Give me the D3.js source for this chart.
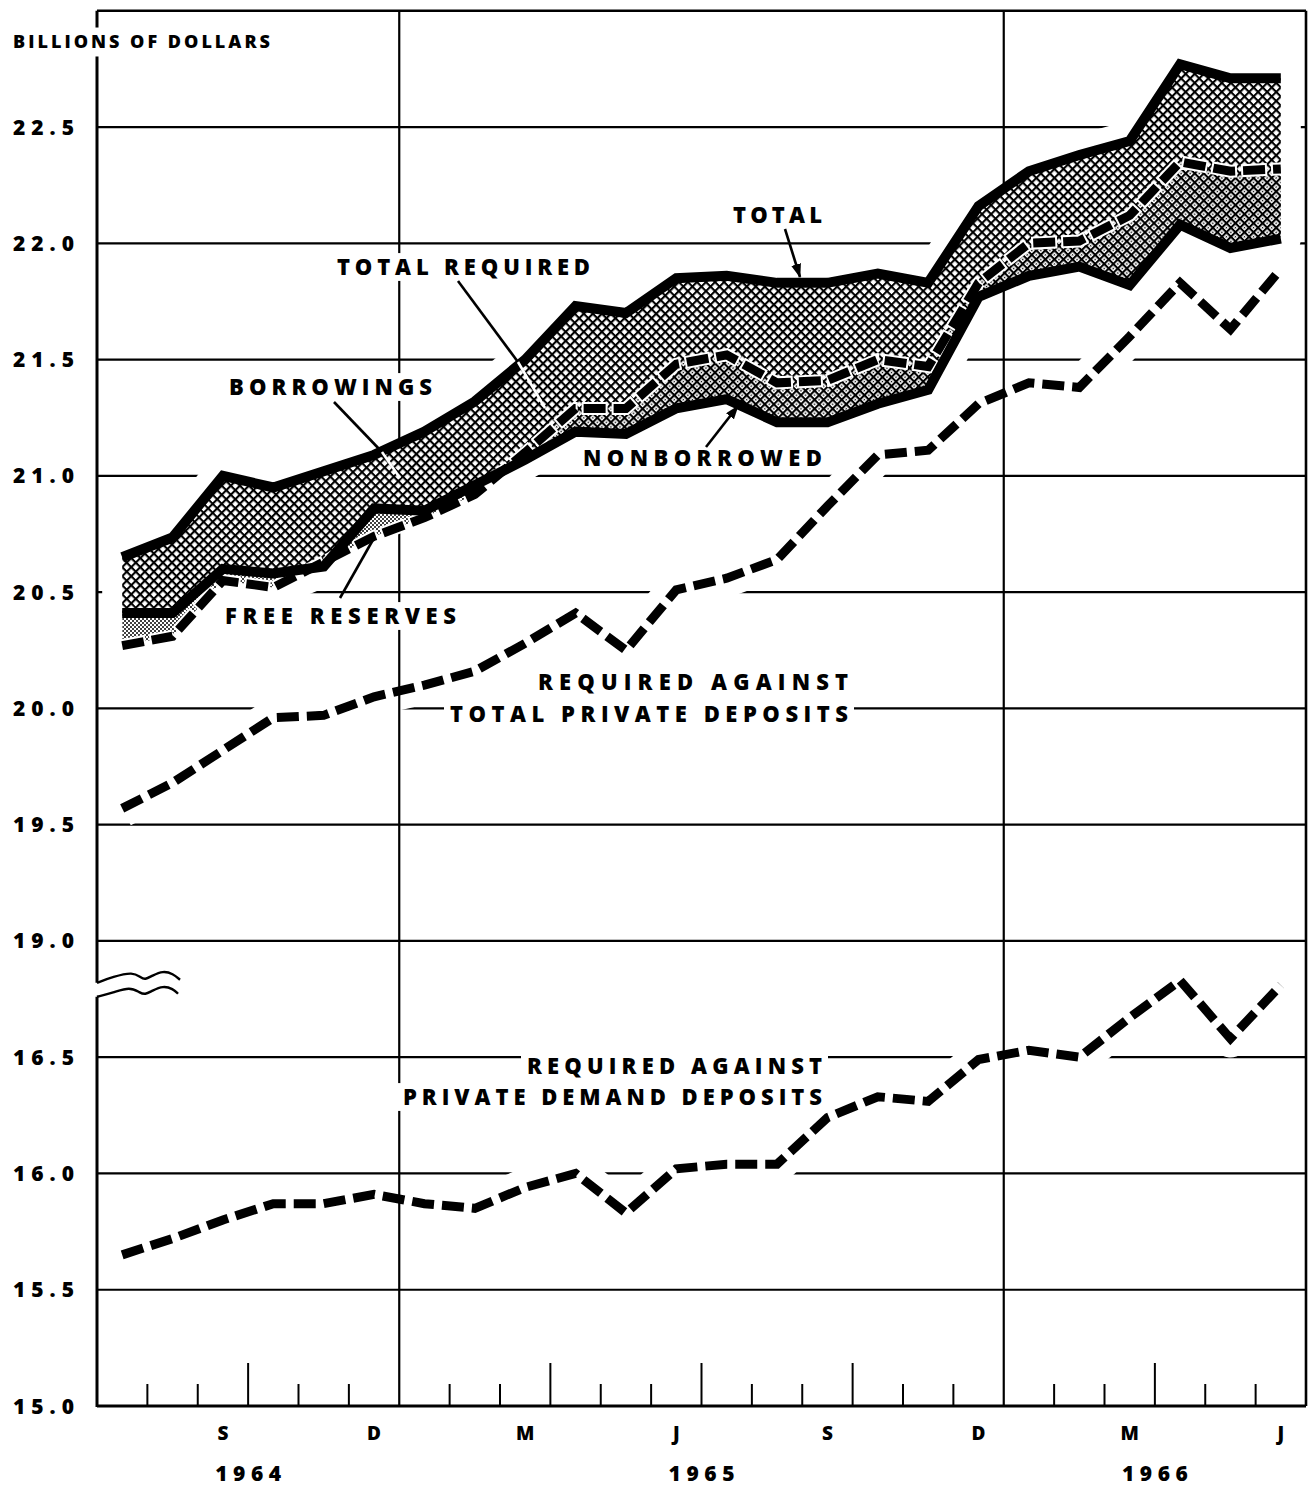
<!DOCTYPE html>
<html><head><meta charset="utf-8">
<script src="https://cdn.jsdelivr.net/npm/d3@7"></script>
<style>
html,body{margin:0;padding:0;background:#fff;}
svg{display:block;}
text{font-family:"Open Sans","Noto Sans",sans-serif;font-weight:800;fill:#000;}
</style></head><body>
<svg id="chart" width="1310" height="1488"></svg>
<script>
// ---------------- DATA ----------------
const months = ["Jul 1964","Aug 1964","Sep 1964","Oct 1964","Nov 1964","Dec 1964",
  "Jan 1965","Feb 1965","Mar 1965","Apr 1965","May 1965","Jun 1965",
  "Jul 1965","Aug 1965","Sep 1965","Oct 1965","Nov 1965","Dec 1965",
  "Jan 1966","Feb 1966","Mar 1966","Apr 1966","May 1966","Jun 1966"];
const totalReserves = [20.65,20.735,21.00,20.95,21.02,21.09,21.19,21.32,21.50,21.73,21.70,21.85,
  21.86,21.83,21.83,21.87,21.83,22.16,22.31,22.38,22.44,22.77,22.71,22.71];
const nonborrowed = [20.41,20.41,20.60,20.58,20.61,20.86,20.85,20.96,21.07,21.19,21.18,21.29,
  21.33,21.23,21.23,21.31,21.37,21.77,21.86,21.90,21.82,22.08,21.98,22.02];
const totalRequired = [20.27,20.31,20.55,20.52,20.63,20.74,20.82,20.92,21.10,21.29,21.29,21.48,
  21.52,21.40,21.41,21.50,21.47,21.83,22.00,22.01,22.12,22.35,22.31,22.32];
const reqTotalPrivate = [19.57,19.68,19.82,19.96,19.97,20.05,20.10,20.16,20.28,20.41,20.25,20.51,
  20.56,20.64,20.87,21.09,21.11,21.31,21.40,21.38,21.60,21.83,21.63,21.89];
const reqPrivateDemand = [15.65,15.72,15.80,15.87,15.87,15.91,15.87,15.85,15.94,16.00,15.83,16.02,
  16.04,16.04,16.24,16.33,16.31,16.49,16.53,16.50,16.67,16.83,16.58,16.81];
const yTicks = [15.0,15.5,16.0,16.5,19.0,19.5,20.0,20.5,21.0,21.5,22.0,22.5];
const monthTickLabels = ["S","D","M","J","S","D","M","J"];
const monthTickIndex = [2,5,8,11,14,17,20,23];
const yearLabels = ["1964","1965","1966"];
const yearCenters = [3,12,21];   // month-boundary positions of year label centres

// ---------------- SCALES ----------------
const svg = d3.select("#chart");
const x = d3.scaleLinear().domain([0, months.length]).range([97, 1306]);
// broken axis: 2.0 units are skipped between 16.95 and 18.95
const unit = 232.54;
const yBase = v => 1406 - (v - 17) * unit;
const y = d3.scaleLinear().domain([15, 16.95, 18.95, 23])
  .range([yBase(17), yBase(18.95), yBase(18.95), yBase(23)]);
const px = i => x(i + 0.5);
const idx = d3.range(months.length);
const lineGen = arr => d3.line().x((d,i)=>px(i)).y(d=>y(d))(arr);

// ---------------- DEFS ----------------
const defs = svg.append("defs");
function crossPattern(id, withDot){
  const s = 6.4, w = 2.1;
  const p = defs.append("pattern").attr("id",id).attr("patternUnits","userSpaceOnUse")
    .attr("width",s).attr("height",s).attr("patternTransform","rotate(45)");
  p.append("rect").attr("width",s).attr("height",s).attr("fill","#fff");
  p.append("rect").attr("width",s).attr("height",w).attr("fill","#000");
  p.append("rect").attr("width",w).attr("height",s).attr("fill","#000");
  if(withDot) p.append("circle").attr("cx",(s+w)/2).attr("cy",(s+w)/2).attr("r",0.8).attr("fill","#000");
}
crossPattern("hatch", false);
crossPattern("dense", true);
const dots = defs.append("pattern").attr("id","dots").attr("patternUnits","userSpaceOnUse")
  .attr("width",4).attr("height",4);
dots.append("rect").attr("width",4).attr("height",4).attr("fill","#fff");
dots.append("circle").attr("cx",1).attr("cy",1).attr("r",1).attr("fill","#000");
dots.append("circle").attr("cx",3).attr("cy",3).attr("r",1).attr("fill","#000");

const marker = defs.append("marker").attr("id","arrow").attr("markerUnits","userSpaceOnUse")
  .attr("markerWidth",14).attr("markerHeight",10).attr("refX",13).attr("refY",5).attr("orient","auto");
marker.append("path").attr("d","M0,0 L14,5 L0,10 Z").attr("fill","#000");

const bandOuter = d3.area().x(i=>px(i))
  .y0(i=>y(Math.min(nonborrowed[i], totalRequired[i]))).y1(i=>y(totalReserves[i]));
const borrowArea = d3.area().x(i=>px(i)).y0(i=>y(nonborrowed[i])).y1(i=>y(totalReserves[i]));
const freeArea = d3.area().x(i=>px(i)).y0(i=>y(totalRequired[i])).y1(i=>y(nonborrowed[i]));

defs.append("clipPath").attr("id","belowNB").append("path")
  .attr("d", d3.area().x(i=>px(i)).y0(y(15)).y1(i=>y(nonborrowed[i]))(idx));
defs.append("clipPath").attr("id","aboveNB").append("path")
  .attr("d", d3.area().x(i=>px(i)).y0(i=>y(nonborrowed[i])).y1(0)(idx));

// mask that breaks horizontal gridlines around the curves
const mask = defs.append("mask").attr("id","gridMask").attr("maskUnits","userSpaceOnUse")
  .attr("x",0).attr("y",0).attr("width",1310).attr("height",1488);
mask.append("rect").attr("width",1310).attr("height",1488).attr("fill","#fff");
mask.append("path").attr("d", bandOuter(idx)).attr("fill","#000").attr("stroke","#000")
  .attr("stroke-width",40).attr("stroke-linejoin","round");
[reqTotalPrivate, reqPrivateDemand].forEach(arr=>{
  mask.append("path").attr("d", lineGen(arr)).attr("fill","none").attr("stroke","#000")
    .attr("stroke-width",38).attr("stroke-linejoin","round");
});

// ---------------- GRID ----------------
const gridG = svg.append("g").attr("mask","url(#gridMask)");
yTicks.forEach(v=>{
  gridG.append("line").attr("x1",x(0)).attr("x2",x(24)).attr("y1",y(v)).attr("y2",y(v))
    .attr("stroke","#000").attr("stroke-width",2.2);
});
[6,18].forEach(k=>{
  svg.append("line").attr("x1",x(k)).attr("x2",x(k)).attr("y1",y(23)).attr("y2",y(15))
    .attr("stroke","#000").attr("stroke-width",2.2);
});
svg.append("line").attr("x1",x(24)).attr("x2",x(24)).attr("y1",y(23)).attr("y2",y(15))
  .attr("stroke","#000").attr("stroke-width",2.6);
svg.append("line").attr("x1",x(0)).attr("x2",x(24)).attr("y1",y(23)).attr("y2",y(23))
  .attr("stroke","#000").attr("stroke-width",2.6);

// label backgrounds (break gridlines behind the labels)
const bgLayer = svg.append("g");

// ---------------- BAND ----------------
svg.append("path").attr("d", borrowArea(idx)).attr("fill","url(#hatch)");
svg.append("path").attr("d", freeArea(idx)).attr("fill","url(#dots)").attr("clip-path","url(#belowNB)");
svg.append("path").attr("d", freeArea(idx)).attr("fill","url(#dense)").attr("clip-path","url(#aboveNB)");

const dash = "22,8";
svg.append("path").attr("d", lineGen(totalRequired)).attr("fill","none").attr("stroke","#fff")
  .attr("stroke-width",13).attr("stroke-dasharray","26,4").attr("stroke-dashoffset",2);
svg.append("path").attr("d", lineGen(totalRequired)).attr("fill","none").attr("stroke","#000")
  .attr("stroke-width",9).attr("stroke-dasharray",dash);

[totalReserves, nonborrowed].forEach(arr=>{
  svg.append("path").attr("d", lineGen(arr)).attr("fill","none").attr("stroke","#000")
    .attr("stroke-width",10).attr("stroke-linejoin","miter");
});

[reqTotalPrivate, reqPrivateDemand].forEach(arr=>{
  svg.append("path").attr("d", lineGen(arr)).attr("fill","none").attr("stroke","#000")
    .attr("stroke-width",9).attr("stroke-dasharray",dash);
});

// ---------------- AXES ----------------
const yBreak = y(19) + 0.42*(y(16.5)-y(19));
svg.append("line").attr("x1",x(0)).attr("x2",x(0)).attr("y1",y(23)).attr("y2",yBreak-7)
  .attr("stroke","#000").attr("stroke-width",3);
svg.append("line").attr("x1",x(0)).attr("x2",x(0)).attr("y1",yBreak+7).attr("y2",y(15)+1)
  .attr("stroke","#000").attr("stroke-width",3);
const waveU = [[0,-7],[16,-13],[36,-18],[44,-12],[48,-10],[55,-14],[66,-19],[76,-16],[83,-10]];
const waveL = [[0,7],[16,3],[33,-3],[43,3],[48,5],[55,1],[66,-4],[76,-1],[81,4]];
const waveLine = d3.line().x(d=>x(0)+d[0]).y(d=>yBreak+d[1]).curve(d3.curveBasis);
[waveU, waveL].forEach(w=>{
  svg.append("path").attr("d", waveLine(w)).attr("fill","none").attr("stroke","#000").attr("stroke-width",2.4);
});
svg.append("line").attr("x1",x(0)).attr("x2",x(24)).attr("y1",y(15)).attr("y2",y(15))
  .attr("stroke","#000").attr("stroke-width",3.2);
for(let k=1;k<24;k++){
  if((k-6)%12===0) continue;
  const h = (k%3===0) ? 43 : 22;
  svg.append("line").attr("x1",x(k)).attr("x2",x(k)).attr("y1",y(15)).attr("y2",y(15)-h)
    .attr("stroke","#000").attr("stroke-width",2);
}

function txt(s, x0, w, cy, size, pad, layer){
  const t = svg.append("text").attr("x",x0).attr("y",cy + 0.36*size)
    .attr("font-size",size).attr("textLength",w).attr("lengthAdjust","spacing").text(s);
  if(pad !== undefined){
    (layer || bgLayer).insert("rect", ":first-child")
      .attr("x",x0-pad).attr("y",cy-0.36*size-pad).attr("width",w+2*pad)
      .attr("height",0.72*size+2*pad).attr("fill","#fff");
  }
  return t;
}
yTicks.forEach(v=> txt(v.toFixed(1), 13, 61, y(v), 21));
const topBg = svg.insert("g", "text");
txt("BILLIONS OF DOLLARS", 13, 257, 42, 18, 8, topBg);
monthTickLabels.forEach((l,j)=>{
  svg.append("text").attr("x",px(monthTickIndex[j])).attr("y",y(15)+27+0.36*19)
    .attr("font-size",19).attr("text-anchor","middle").text(l);
});
yearLabels.forEach((l,j)=>{
  txt(l, x(yearCenters[j])-33, 66, y(15)+67, 21);
});

// ---------------- ANNOTATIONS ----------------
function leader(x1,y1,x2,y2,color,arrow){
  const l = svg.append("line").attr("x1",x1).attr("y1",y1).attr("x2",x2).attr("y2",y2)
    .attr("stroke",color).attr("stroke-width",2.6);
  if(arrow) l.attr("marker-end","url(#arrow)");
}
leader(785,229,800,277,"#000",true);
leader(458,281,518,362,"#000",false);
leader(518,362,545,408,"#fff",false);
leader(334,402,382,452,"#000",false);
leader(382,452,400,478,"#fff",false);
leader(706,447,738,406,"#000",true);
leader(340,598,374,538,"#000",false);

const L = 22;
txt("TOTAL", 733, 89, 215, L, 6);
txt("TOTAL REQUIRED", 337, 253, 267, L, 6);
txt("BORROWINGS", 229, 203, 387, L, 6);
txt("NONBORROWED", 583, 239, 458, L, 6);
txt("FREE RESERVES", 225, 231, 616, L, 6);
txt("REQUIRED AGAINST", 538, 310, 682, L, 6);
txt("TOTAL PRIVATE DEPOSITS", 450, 398, 714, L, 6);
txt("REQUIRED AGAINST", 527, 295, 1066, L, 6);
txt("PRIVATE DEMAND DEPOSITS", 403, 419, 1097, L, 6);
</script>
</body></html>
